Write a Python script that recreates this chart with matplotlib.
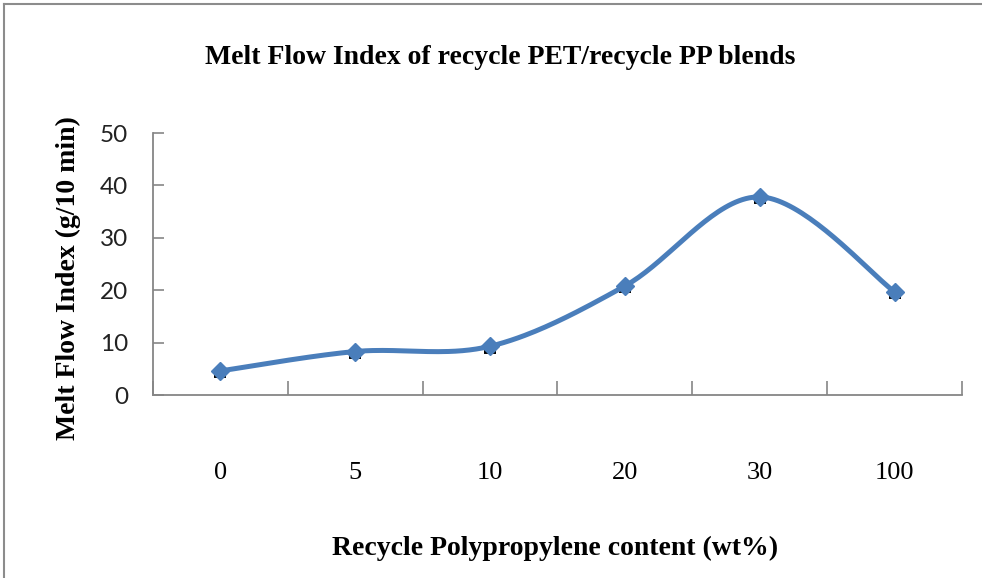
import numpy as np
import matplotlib
matplotlib.use("Agg")
import matplotlib.pyplot as plt
from matplotlib.lines import Line2D

categories = ["0", "5", "10", "20", "30", "100"]
mfi = [4.6, 8.3, 9.3, 20.8, 37.8, 19.7]
mfi_err_minus = [1.0, 1.0, 1.0, 1.0, 1.0, 1.0]
mfi_err_plus = [0.0, 0.0, 0.0, 0.0, 0.0, 0.0]
yticks = [0, 10, 20, 30, 40, 50]

title = "Melt Flow Index of recycle PET/recycle PP blends"
xlabel = "Recycle Polypropylene content (wt%)"
ylabel = "Melt Flow Index (g/10 min)"

W, H = 982, 578
fig = plt.figure(figsize=(W / 100, H / 100), dpi=100)
fig.patch.set_facecolor("white")

# outer chart border (left and top visible)
fig.add_artist(Line2D([4 / W, 4 / W], [0, 1 - 4 / H], color="#8c8c8c", lw=1.5, transform=fig.transFigure))
fig.add_artist(Line2D([4 / W, 1], [1 - 4 / H, 1 - 4 / H], color="#8c8c8c", lw=1.5, transform=fig.transFigure))

ax = fig.add_axes([153 / W, 1 - 395 / H, (962 - 153) / W, (395 - 133) / H])

x = np.arange(len(categories))
y = np.array(mfi, dtype=float)

# Excel-style smoothed line (Catmull-Rom style Bezier)
def smooth(xp, yp, n=40):
    P = np.column_stack([xp, yp])
    out = []
    for i in range(len(P) - 1):
        p0 = P[i - 1] if i > 0 else P[i]
        p1 = P[i]
        p2 = P[i + 1]
        p3 = P[i + 2] if i + 2 < len(P) else P[i + 1]
        c1 = p1 + (p2 - p0) / 6
        c2 = p2 - (p3 - p1) / 6
        t = np.linspace(0, 1, n)[:, None]
        seg = (1 - t) ** 3 * p1 + 3 * (1 - t) ** 2 * t * c1 + 3 * (1 - t) * t ** 2 * c2 + t ** 3 * p2
        out.append(seg if i == 0 else seg[1:])
    s = np.vstack(out)
    return s[:, 0], s[:, 1]

sx, sy = smooth(x.astype(float), y)
ax.errorbar(x, y, yerr=[mfi_err_minus, mfi_err_plus], fmt="none", ecolor="black", elinewidth=1.2,
            capsize=4.5, capthick=2.8, zorder=2)
ax.plot(sx, sy, color="#4a7ebb", lw=3.6, zorder=3, solid_capstyle="round")
ax.plot(x, y, linestyle="none", marker="D", markersize=9, color="#4a7ebb", zorder=4)

ax.set_xlim(-0.5, len(categories) - 0.5)
ax.set_ylim(0, 50)

for s in ["top", "right"]:
    ax.spines[s].set_visible(False)
for s in ["left", "bottom"]:
    ax.spines[s].set_color("#868686")
    ax.spines[s].set_linewidth(1.3)

ax.set_yticks(yticks)
ax.set_yticklabels([str(v) for v in yticks], fontname="Lato", fontsize=17.5, color="#222222")
ax.tick_params(axis="y", direction="in", length=8, width=1.2, color="#868686", pad=18)

ax.set_xticks(np.arange(-0.5, len(categories), 1.0))
ax.set_xticklabels([])
ax.set_xticks(x, minor=True)
ax.set_xticklabels(categories, minor=True, fontname="Liberation Serif", fontsize=19)
ax.tick_params(axis="x", which="major", direction="in", length=10, width=1.2, color="#868686")
ax.tick_params(axis="x", which="minor", length=0, pad=48)

fig.text(500 / W, 1 - 58 / H, title, ha="center", va="center", fontname="Liberation Serif",
         fontweight="bold", fontsize=20)
fig.text(555 / W, 1 - 548 / H, xlabel, ha="center", va="center", fontname="Liberation Serif",
         fontweight="bold", fontsize=20)
fig.text(68 / W, 1 - 278 / H, ylabel, ha="center", va="center", rotation=90, fontname="Liberation Serif",
         fontweight="bold", fontsize=20)

fig.savefig("out.png", dpi=100, facecolor="white")
